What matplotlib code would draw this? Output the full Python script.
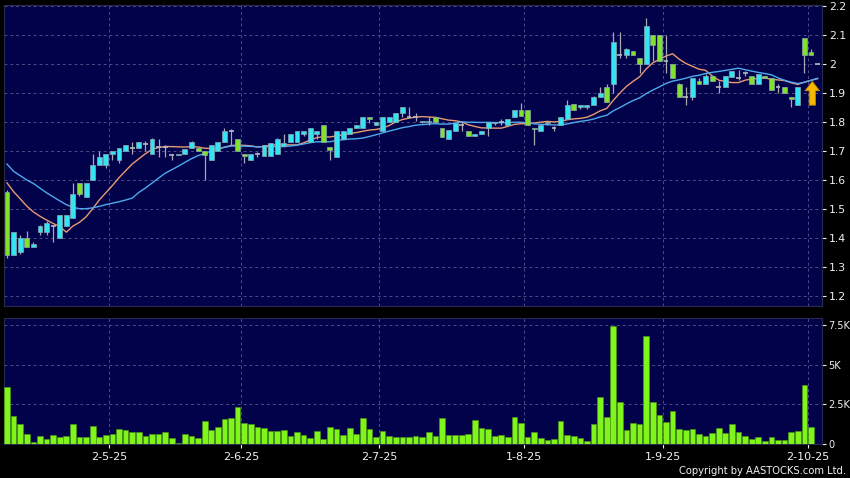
import matplotlib
matplotlib.use('Agg')
import matplotlib.pyplot as plt
import numpy as np
import pandas as pd

# ---------------- data ----------------
opens = [1.56, 1.34, 1.35, 1.40, 1.37, 1.42, 1.42, 1.44, 1.40, 1.44,
         1.47, 1.59, 1.54, 1.60, 1.65, 1.65, 1.69, 1.67, 1.70, 1.71,
         1.71, 1.725, 1.69, 1.715, 1.715, 1.686, 1.685, 1.69, 1.71, 1.71,
         1.70, 1.67, 1.70, 1.73, 1.77, 1.74, 1.69, 1.67, 1.69, 1.683,
         1.683, 1.69, 1.717, 1.73, 1.73, 1.76, 1.73, 1.76, 1.79, 1.715,
         1.68, 1.74, 1.76, 1.78, 1.78, 1.818, 1.79, 1.77, 1.80, 1.80,
         1.83, 1.818, 1.818, 1.80, 1.80, 1.818, 1.778, 1.74, 1.77, 1.79,
         1.77, 1.753, 1.76, 1.78, 1.795, 1.797, 1.79, 1.818, 1.841, 1.84,
         1.78, 1.77, 1.80, 1.78, 1.79, 1.81, 1.862, 1.85, 1.85, 1.858,
         1.887, 1.92, 1.93, 2.03, 2.03, 2.045, 2.02, 2.00, 2.10, 2.10,
         2.01, 2.00, 1.93, 1.887, 1.887, 1.94, 1.93, 1.96, 1.92, 1.92,
         1.955, 1.95, 1.97, 1.96, 1.93, 1.96, 1.95, 1.92, 1.92, 1.887,
         1.86, 2.089, 2.04, 2.00]
highs = [1.565, 1.42, 1.41, 1.425, 1.385, 1.445, 1.46, 1.445, 1.48, 1.48,
         1.59, 1.59, 1.59, 1.69, 1.70, 1.69, 1.70, 1.71, 1.72, 1.73,
         1.73, 1.735, 1.745, 1.74, 1.72, 1.69, 1.69, 1.707, 1.735, 1.71,
         1.70, 1.72, 1.73, 1.78, 1.775, 1.74, 1.69, 1.69, 1.695, 1.72,
         1.728, 1.745, 1.76, 1.76, 1.77, 1.77, 1.78, 1.77, 1.79, 1.715,
         1.77, 1.77, 1.78, 1.79, 1.818, 1.818, 1.80, 1.818, 1.818, 1.83,
         1.85, 1.85, 1.83, 1.805, 1.818, 1.818, 1.778, 1.772, 1.797, 1.80,
         1.77, 1.76, 1.77, 1.80, 1.80, 1.81, 1.81, 1.841, 1.864, 1.84,
         1.78, 1.79, 1.80, 1.785, 1.818, 1.876, 1.862, 1.858, 1.858, 1.89,
         1.92, 1.93, 2.11, 2.11, 2.055, 2.045, 2.02, 2.16, 2.10, 2.10,
         2.10, 2.00, 1.935, 1.92, 1.95, 1.95, 1.965, 1.96, 1.94, 1.96,
         1.975, 1.98, 1.975, 1.96, 1.965, 1.96, 1.95, 1.93, 1.92, 1.887,
         1.92, 2.089, 2.05, 2.005]
lows = [1.33, 1.34, 1.345, 1.37, 1.37, 1.41, 1.41, 1.385, 1.40, 1.44,
        1.47, 1.545, 1.54, 1.60, 1.65, 1.64, 1.67, 1.66, 1.70, 1.69,
        1.71, 1.70, 1.69, 1.68, 1.68, 1.67, 1.685, 1.69, 1.71, 1.70,
        1.60, 1.67, 1.70, 1.73, 1.72, 1.70, 1.66, 1.67, 1.68, 1.683,
        1.683, 1.69, 1.717, 1.73, 1.73, 1.75, 1.73, 1.74, 1.73, 1.67,
        1.68, 1.74, 1.76, 1.78, 1.778, 1.795, 1.79, 1.77, 1.80, 1.80,
        1.818, 1.815, 1.805, 1.795, 1.79, 1.80, 1.749, 1.74, 1.77, 1.77,
        1.75, 1.753, 1.76, 1.75, 1.79, 1.79, 1.79, 1.818, 1.82, 1.79,
        1.72, 1.77, 1.79, 1.77, 1.79, 1.81, 1.84, 1.845, 1.845, 1.858,
        1.887, 1.87, 1.90, 2.02, 2.02, 2.03, 1.97, 2.00, 2.01, 2.01,
        1.97, 1.95, 1.887, 1.86, 1.877, 1.93, 1.93, 1.94, 1.90, 1.92,
        1.955, 1.945, 1.96, 1.93, 1.93, 1.95, 1.91, 1.90, 1.90, 1.85,
        1.86, 1.97, 2.03, 2.00]
closes = [1.34, 1.42, 1.40, 1.37, 1.38, 1.44, 1.45, 1.44, 1.48, 1.48,
          1.55, 1.55, 1.59, 1.65, 1.68, 1.69, 1.70, 1.71, 1.72, 1.71,
          1.73, 1.725, 1.74, 1.715, 1.715, 1.686, 1.69, 1.707, 1.73, 1.70,
          1.685, 1.72, 1.73, 1.77, 1.77, 1.70, 1.683, 1.69, 1.69, 1.72,
          1.728, 1.74, 1.729, 1.76, 1.77, 1.77, 1.78, 1.77, 1.73, 1.705,
          1.77, 1.77, 1.78, 1.79, 1.818, 1.81, 1.80, 1.818, 1.818, 1.83,
          1.85, 1.818, 1.818, 1.805, 1.805, 1.80, 1.749, 1.772, 1.797, 1.79,
          1.75, 1.76, 1.77, 1.80, 1.80, 1.80, 1.81, 1.841, 1.82, 1.79,
          1.775, 1.79, 1.795, 1.78, 1.818, 1.858, 1.841, 1.858, 1.858, 1.887,
          1.90, 1.87, 2.077, 2.03, 2.05, 2.03, 2.00, 2.13, 2.067, 2.01,
          2.01, 1.95, 1.887, 1.887, 1.95, 1.93, 1.96, 1.94, 1.92, 1.96,
          1.975, 1.95, 1.97, 1.93, 1.965, 1.95, 1.91, 1.92, 1.90, 1.88,
          1.92, 2.03, 2.03, 2.00]
volumes_k = [3.6, 1.73, 1.23, 0.63, 0.1, 0.48, 0.29, 0.52, 0.42, 0.5,
             1.25, 0.42, 0.44, 1.1, 0.4, 0.52, 0.63, 0.96, 0.85, 0.73,
             0.73, 0.48, 0.6, 0.6, 0.71, 0.35, 0.06, 0.6, 0.48, 0.35,
             1.42, 0.85, 1.04, 1.56, 1.6, 2.35, 1.31, 1.25, 1.04, 1.0,
             0.81, 0.81, 0.88, 0.5, 0.75, 0.54, 0.35, 0.81, 0.31, 1.04,
             0.92, 0.54, 1.0, 0.63, 1.65, 0.92, 0.42, 0.79, 0.5, 0.42,
             0.4, 0.4, 0.5, 0.44, 0.71, 0.48, 1.6, 0.54, 0.52, 0.52,
             0.6, 1.49, 0.98, 0.92, 0.5, 0.57, 0.44, 1.72, 1.28, 0.44,
             0.71, 0.36, 0.21, 0.31, 1.43, 0.54, 0.48, 0.36, 0.15, 1.24,
             2.98, 1.68, 7.46, 2.66, 0.86, 1.32, 1.22, 6.83, 2.62, 1.8,
             1.4, 2.1, 0.94, 0.86, 0.9, 0.59, 0.46, 0.67, 1.0, 0.67,
             1.24, 0.71, 0.48, 0.29, 0.42, 0.17, 0.44, 0.21, 0.25, 0.75,
             0.82, 3.69, 1.03, 0.0]
# moving-average values at the start of the window (earlier closes not shown)
ma10_head = [1.59, 1.56, 1.535, 1.51, 1.49, 1.475, 1.462, 1.45, 1.44]
ma20_head = [1.655, 1.63, 1.615, 1.60, 1.588, 1.572, 1.556, 1.542, 1.528, 1.515,
             1.506, 1.501, 1.501, 1.504, 1.509, 1.515, 1.52, 1.525, 1.531]
month_labels = ['2-5-25', '2-6-25', '2-7-25', '1-8-25', '1-9-25', '2-10-25']
month_first_idx = [16, 36, 57, 79, 100, 122]
price_ticks = [1.2, 1.3, 1.4, 1.5, 1.6, 1.7, 1.8, 1.9, 2.0, 2.1, 2.2]
vol_ticks = [0, 2.5, 5, 7.5]
vol_tick_labels = ['0', '2.5K', '5K', '7.5K']

# ---------------- styling ----------------
BG = '#000000'
PANEL = '#02024a'
CYAN = '#33e4f2'
GREEN = '#80e22a'
WICK = '#a8a8b0'
VOL = '#80f51c'
GRID = '#4c4c86'
TXT = '#f0f0f0'

W, H = 850, 478
fig = plt.figure(figsize=(W / 100, H / 100), dpi=100, facecolor=BG)
ax = fig.add_axes([4 / W, 1 - 306 / H, 818 / W, 301 / H], facecolor=PANEL)
vax = fig.add_axes([4 / W, 1 - 443.7 / H, 818 / W, 125.7 / H], facecolor=PANEL)

n = len(closes)
x = np.arange(n)
s = pd.Series(closes, dtype=float)
ma10 = s.rolling(10).mean().to_numpy()
ma20 = s.rolling(20).mean().to_numpy()
ma10[:len(ma10_head)] = ma10_head
ma20[:len(ma20_head)] = ma20_head

# moving averages
ax.plot(x, ma10, color='#e89a72', lw=1.0, zorder=2)
ax.plot(x, ma20, color='#4ea9ee', lw=1.0, zorder=2)

# candles
bw = 0.74
for i in range(n):
    o, h, l, c = opens[i], highs[i], lows[i], closes[i]
    ax.vlines(i, l, h, color=WICK, lw=0.9, zorder=3)
    if abs(c - o) < 0.004:
        ax.hlines((o + c) / 2, i - bw / 2, i + bw / 2, color='#b8b8c0', lw=1.2, zorder=4)
    else:
        col = CYAN if c > o else GREEN
        ax.bar(i, c - o, bottom=o, width=bw, color=col, edgecolor='#8aa6b0',
               linewidth=0.5, zorder=4)

# arrow marker
ax.annotate('', xy=(122.2, 1.94), xytext=(122.2, 1.858),
            arrowprops=dict(arrowstyle='simple,head_length=0.45,head_width=0.7,tail_width=0.3',
                            fc='#f7b800', ec='#c08400', lw=0.6, mutation_scale=15,
                            shrinkA=0, shrinkB=0), zorder=6)

# volume
vax.bar(x, volumes_k, width=0.86, color=VOL, edgecolor='#4f9a12', linewidth=0.4, zorder=3)

tick_pos = [p - 0.5 for p in month_first_idx]
xlim = (-0.455, 123.67)
for a in (ax, vax):
    a.set_xlim(*xlim)
    a.set_xticks(tick_pos)
    a.grid(True, color=GRID, linestyle=(0, (3, 3)), linewidth=0.7, zorder=0)
    a.set_axisbelow(True)
    for sp in a.spines.values():
        sp.set_color('#2a2a50')
        sp.set_linewidth(0.8)
    a.yaxis.tick_right()

ax.tick_params(axis='y', colors=TXT, length=3, width=0.8, pad=2, labelsize=7.8)
vax.tick_params(axis='y', colors=TXT, length=3, width=0.8, pad=1.5, labelsize=7.0)

ax.set_ylim(1.1655, 2.2034)
ax.set_yticks(price_ticks)
ax.set_yticklabels(['%g' % v for v in price_ticks])
ax.tick_params(axis='x', length=0, labelbottom=False)

vax.set_ylim(0, 7.96)
vax.set_yticks(vol_ticks)
vax.set_yticklabels(vol_tick_labels)
vax.set_xticklabels(month_labels)
vax.tick_params(axis='x', colors=TXT, length=3, width=0.8, pad=3, labelsize=8)

fig.text(846 / W, 1 - 471 / H, 'Copyright by AASTOCKS.com Ltd.', ha='right', va='center',
         color=TXT, fontsize=7.2)

fig.savefig('out.png', dpi=100, facecolor=BG)
